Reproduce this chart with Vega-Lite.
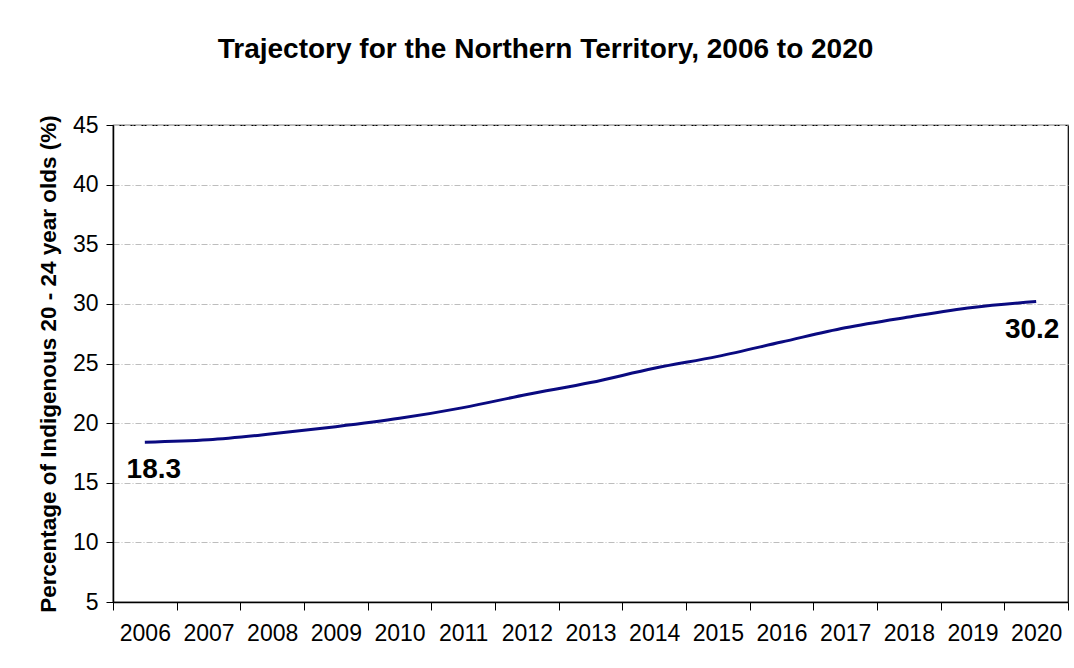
{
  "$schema": "https://vega.github.io/schema/vega-lite/v6.json",
  "width": 955,
  "height": 477,
  "autosize": {"type": "none"},
  "padding": {"left": 113, "top": 125, "right": 6, "bottom": 66},
  "background": "white",
  "title": {
    "text": "Trajectory for the Northern Territory, 2006 to 2020",
    "font": "Liberation Sans",
    "fontSize": 28,
    "fontWeight": "bold",
    "color": "black",
    "anchor": "middle",
    "dx": -45,
    "offset": 50
  },
  "config": {
    "view": {"stroke": "black", "strokeWidth": 1.2},
    "axis": {
      "labelFont": "Liberation Sans",
      "labelFontSize": 23,
      "labelColor": "black",
      "domainColor": "black",
      "tickColor": "black",
      "titleFont": "Liberation Sans",
      "titleColor": "black"
    }
  },
  "data": {
    "values": [
      {"year": "2006", "value": 18.4, "label": "18.3"},
      {"year": "2007", "value": 18.6, "label": ""},
      {"year": "2008", "value": 19.1, "label": ""},
      {"year": "2009", "value": 19.7, "label": ""},
      {"year": "2010", "value": 20.4, "label": ""},
      {"year": "2011", "value": 21.3, "label": ""},
      {"year": "2012", "value": 22.4, "label": ""},
      {"year": "2013", "value": 23.4, "label": ""},
      {"year": "2014", "value": 24.6, "label": ""},
      {"year": "2015", "value": 25.6, "label": ""},
      {"year": "2016", "value": 26.8, "label": ""},
      {"year": "2017", "value": 28.0, "label": ""},
      {"year": "2018", "value": 28.9, "label": ""},
      {"year": "2019", "value": 29.7, "label": ""},
      {"year": "2020", "value": 30.2, "label": "30.2"}
    ]
  },
  "encoding": {
    "x": {
      "field": "year",
      "type": "ordinal",
      "bandPosition": 0.5,
      "scale": {"type": "band", "paddingInner": 0, "paddingOuter": 0},
      "axis": {
        "title": null,
        "labelAngle": 0,
        "tickBand": "extent",
        "tickSize": 8,
        "labelPadding": 12,
        "grid": false,
        "domainWidth": 1.5
      }
    },
    "y": {
      "field": "value",
      "type": "quantitative",
      "scale": {"domain": [5, 45], "nice": false, "zero": false},
      "axis": {
        "title": "Percentage of Indigenous 20 - 24 year olds (%)",
        "titleFontSize": 22.5,
        "titleFontWeight": "bold",
        "titlePadding": 12,
        "values": [5, 10, 15, 20, 25, 30, 35, 40, 45],
        "tickSize": 7,
        "labelPadding": 8,
        "domainWidth": 1.5,
        "grid": true,
        "gridColor": "#bdbdbd",
        "gridDash": [6, 2, 1, 2],
        "gridWidth": 1
      }
    }
  },
  "layer": [
    {
      "mark": {"type": "line", "color": "#0a0a80", "strokeWidth": 3, "interpolate": "monotone"}
    },
    {
      "transform": [{"filter": "datum.year == '2006'"}],
      "mark": {"type": "text", "font": "Liberation Sans", "fontSize": 28, "fontWeight": "bold", "color": "black", "dx": 9, "dy": 28},
      "encoding": {"text": {"field": "label"}}
    },
    {
      "transform": [{"filter": "datum.year == '2020'"}],
      "mark": {"type": "text", "font": "Liberation Sans", "fontSize": 28, "fontWeight": "bold", "color": "black", "dx": -4, "dy": 29},
      "encoding": {"text": {"field": "label"}}
    }
  ]
}
